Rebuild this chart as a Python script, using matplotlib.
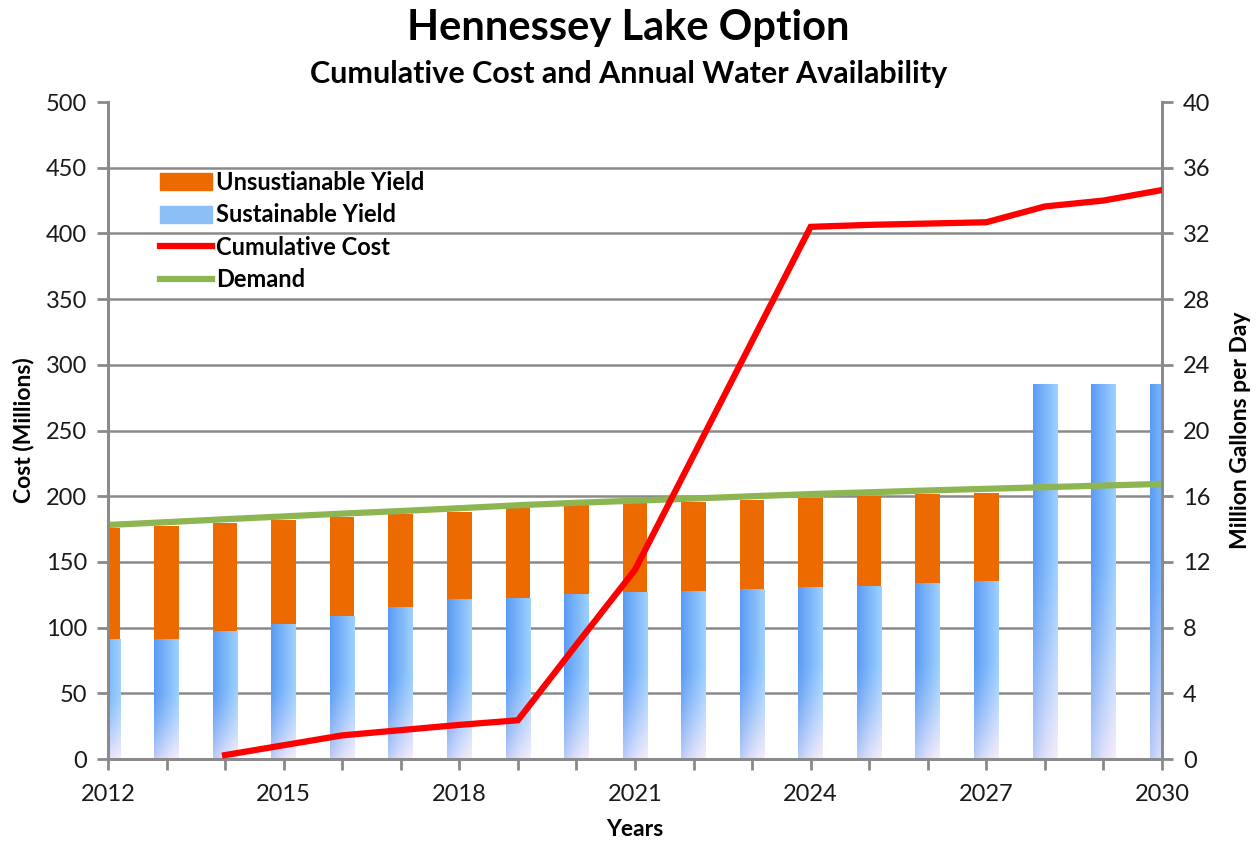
import numpy as np
import matplotlib.pyplot as plt
from matplotlib.patches import Patch
from matplotlib.lines import Line2D
from matplotlib.ticker import FixedLocator, MultipleLocator

plt.rcParams['font.family'] = ['Lato', 'DejaVu Sans']

# data
years = list(range(2012, 2031))
sustainable = [7.25, 7.25, 7.75, 8.2, 8.7, 9.2, 9.68, 9.8, 10.0, 10.12, 10.2, 10.32,
               10.43, 10.5, 10.69, 10.8, 22.8, 22.8, 22.8]
unsustainable = [6.8, 6.95, 6.65, 6.35, 6.05, 5.72, 5.38, 5.5, 5.45, 5.48, 5.47, 5.45,
                 5.46, 5.5, 5.42, 5.4, 0, 0, 0]
demand = [14.25, 14.42, 14.6, 14.77, 14.94, 15.1, 15.27, 15.45, 15.6, 15.73, 15.86, 16.0,
          16.13, 16.24, 16.35, 16.45, 16.55, 16.65, 16.75]
cost_years = list(range(2014, 2031))
cum_cost = [3, 10.5, 18, 22, 26, 29.5, 87, 144, 231, 318, 405, 406.5, 407.5, 408.5,
            420.5, 425, 433]
x_labels = list(range(2012, 2031, 3))

grey = '#8a8a8a'
orange = '#ec6a00'
red = '#ff0000'
green = '#8db653'
bar_w = 0.42

fig = plt.figure(figsize=(12.57, 8.43), dpi=100)
ax2 = fig.add_axes([0.0859, 0.0996, 0.8385, 0.7794])   # right axis (MGD), bars behind
ax = ax2.twinx()                                         # left axis (cost), on top
ax.yaxis.tick_left()
ax.yaxis.set_label_position('left')
ax2.yaxis.tick_right()
ax2.yaxis.set_label_position('right')

# bars
sus_bars = ax2.bar(years, sustainable, bar_w, color='none', edgecolor='none', zorder=2)
ax2.bar(years, unsustainable, bar_w, bottom=sustainable, color=orange, zorder=2)

# gradient fill for sustainable bars
nv, nh = 80, 24
t = np.linspace(0, 1, nh)[None, :]
s = np.linspace(1, 0, nv)[:, None]  # 1 at top
dark = np.array([0.36, 0.61, 0.96])
light = np.array([0.62, 0.82, 1.0])
pale = np.array([0.97, 0.92, 0.98])
base = dark[None, None, :] * (1 - t[..., None]) + light[None, None, :] * t[..., None]
fade = np.clip((0.55 - s) / 0.55, 0, 1) ** 1.3 * (0.6 + 0.4 * t)
img = base * (1 - fade[..., None]) + pale[None, None, :] * fade[..., None]
for p in sus_bars.patches:
    x0, w, h = p.get_x(), p.get_width(), p.get_height()
    ax2.imshow(img, extent=(x0, x0 + w, 0, h), aspect='auto', zorder=2,
               interpolation='bilinear')

# demand line
ax2.plot(years, demand, color=green, lw=4.5, zorder=3, solid_capstyle='butt')

# cumulative cost
ax.plot(cost_years, cum_cost, color=red, lw=4.5, zorder=4, solid_joinstyle='miter')

ax.set_xlim(2012, 2030)
ax2.set_xlim(2012, 2030)
ax.set_ylim(0, 500)
ax2.set_ylim(0, 40)
ax.set_yticks(range(0, 501, 50))
ax2.set_yticks(range(0, 41, 4))
ax2.xaxis.set_major_locator(FixedLocator(x_labels))
ax2.xaxis.set_minor_locator(MultipleLocator(1))

# grid behind bars
ax2.set_axisbelow(True)
ax2.yaxis.grid(True, color=grey, lw=1.8)
for gl, v in zip(ax2.yaxis.get_gridlines(), ax2.get_yticks()):
    if v >= 40:
        gl.set_visible(False)

for a in (ax, ax2):
    a.patch.set_visible(False)
    a.spines['top'].set_visible(False)
    for sp in ('left', 'right', 'bottom'):
        a.spines[sp].set_color(grey)
        a.spines[sp].set_linewidth(2)
    a.tick_params(axis='both', which='both', direction='out', color=grey, width=2,
                  length=8, labelsize=17, labelcolor='#1a1a1a')
ax.tick_params(axis='x', which='both', bottom=False, labelbottom=False)
ax2.tick_params(axis='x', which='both', pad=10)
ax.tick_params(axis='y', pad=7)
ax2.tick_params(axis='y', pad=7)
ax2.set_zorder(0)
ax.set_zorder(1)

ax.set_ylabel('Cost (Millions)', fontsize=16.5, fontweight='bold', labelpad=8)
ax2.set_ylabel('Million Gallons per Day', fontsize=16.5, fontweight='bold', labelpad=14)
ax2.set_xlabel('Years', fontsize=16.5, fontweight='bold', labelpad=10)

fig.text(0.5, 0.967, 'Hennessey Lake Option', ha='center', va='center',
         fontsize=30, fontweight='bold')
fig.text(0.5, 0.912, 'Cumulative Cost and Annual Water Availability', ha='center',
         va='center', fontsize=22, fontweight='bold')

handles = [Patch(color=orange), Patch(color='#8cbff5'),
           Line2D([], [], color=red, lw=4.5), Line2D([], [], color=green, lw=4.5)]
labels = ['Unsustianable Yield', 'Sustainable Yield', 'Cumulative Cost', 'Demand']
leg = ax.legend(handles, labels, loc='upper left', bbox_to_anchor=(0.049, 0.895),
                frameon=False, prop={'weight': 'bold', 'size': 17},
                borderaxespad=0, borderpad=0,
                handlelength=2.2, handleheight=0.75, handletextpad=0.2, labelspacing=0.4)

fig.savefig('out.png', dpi=100)
